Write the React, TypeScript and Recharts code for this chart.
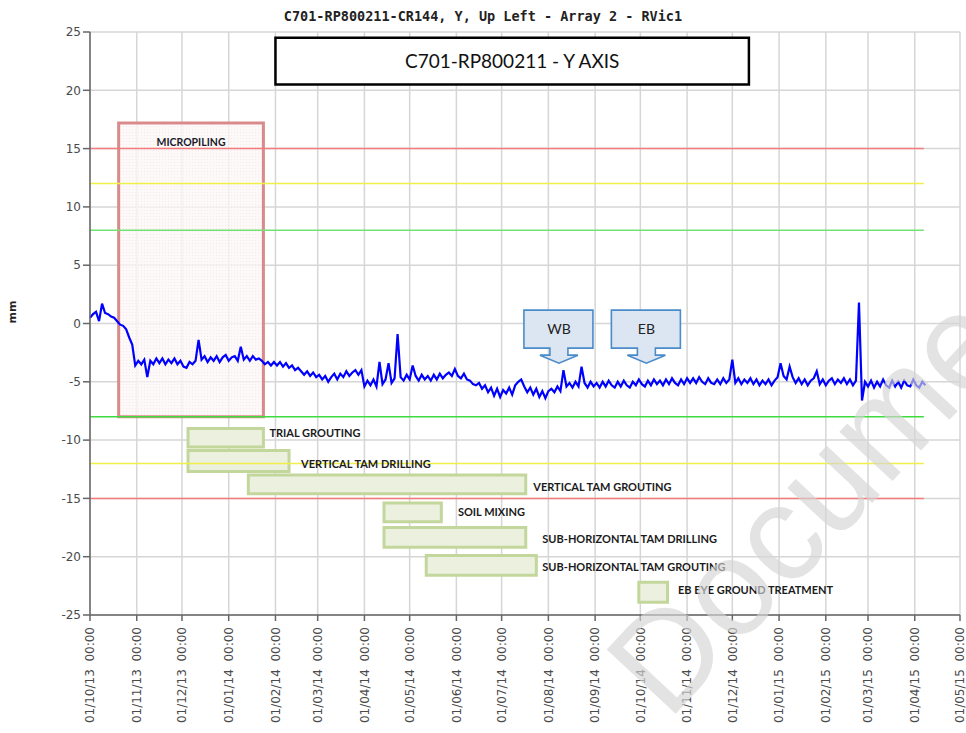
import React from 'react'
import { LineChart, Line, XAxis, YAxis, CartesianGrid, ReferenceLine, ReferenceArea, ReferenceDot } from 'recharts'

// readings every 2 days from 01/10/13 (mm)
const START = '01/10/13'
const SAMPLE_DAYS = 2
const readings = [
  0.5, 0.8, 1.0, 0.2, 1.7, 0.9, 0.8, 0.6, 0.5, 0.2,
  -0.1, -0.2, -0.5, -1.2, -1.8, -3.6, -3.2, -3.5, -3.1, -4.6,
  -3.2, -3.5, -3.0, -3.4, -3.0, -3.5, -3.1, -3.4, -3.0, -3.5,
  -3.2, -3.7, -3.8, -3.3, -3.5, -3.2, -1.4, -3.1, -2.8, -3.3,
  -2.9, -3.2, -2.8, -3.3, -2.9, -2.7, -3.2, -2.9, -2.8, -3.2,
  -2.0, -3.1, -2.8, -3.2, -2.8, -3.1, -3.0, -3.2, -3.5, -3.3,
  -3.6, -3.3, -3.6, -3.3, -3.7, -3.4, -3.8, -3.6, -4.0, -3.8,
  -4.1, -4.4, -4.1, -4.5, -4.2, -4.6, -4.4, -4.8, -4.5, -5.0,
  -4.6, -4.3, -4.8, -4.3, -4.6, -4.1, -4.5, -4.2, -4.0, -4.4,
  -4.0, -5.4, -4.9, -5.3, -4.8, -5.4, -3.3, -5.2, -4.8, -3.4,
  -5.1, -4.7, -0.9, -4.6, -4.9, -4.4, -4.8, -3.6, -4.5, -4.9,
  -4.4, -4.8, -4.5, -4.9, -4.4, -4.8, -4.3, -4.7, -4.4, -4.2,
  -4.5, -3.9, -4.5, -4.7, -4.3, -4.8, -4.9, -5.2, -5.3, -5.1,
  -5.6, -5.3, -5.9, -5.5, -6.2, -5.6, -6.3, -5.7, -6.0, -5.5,
  -6.1, -5.3, -5.0, -4.8, -5.4, -5.9, -5.5, -6.1, -5.6, -6.3,
  -5.8, -6.4, -5.8, -5.6, -5.9, -5.4, -5.8, -4.0, -5.4, -5.1,
  -5.5, -5.0, -5.4, -3.7, -5.1, -5.5, -5.0, -5.4, -5.1, -5.5,
  -5.0, -5.4, -4.9, -5.3, -5.5, -5.0, -5.4, -4.9, -5.3, -5.5,
  -5.0, -5.3, -4.8, -5.2, -5.4, -4.9, -5.3, -4.8, -5.2, -4.9,
  -5.3, -4.8, -5.2, -4.7, -5.1, -5.3, -4.8, -5.2, -4.7, -5.1,
  -4.7, -5.1, -4.6, -5.0, -5.2, -4.7, -5.1, -5.2, -4.8, -5.2,
  -4.7, -5.1, -4.8, -3.1, -5.1, -4.7, -5.2, -4.8, -5.1, -4.7,
  -5.2, -4.8, -5.3, -4.9, -5.2, -4.8, -5.3, -4.9, -4.6, -3.4,
  -4.5, -4.8, -3.7, -4.6, -5.1, -4.7, -5.2, -4.8, -5.3, -4.9,
  -4.7, -4.1, -5.2, -4.8, -5.3, -4.9, -4.7, -5.2, -4.8, -5.1,
  -4.7, -5.2, -4.8, -5.3, -4.9, 1.8, -6.6, -5.0, -5.4, -4.9,
  -5.5, -5.0, -5.4, -4.8, -5.3, -5.5, -4.9, -5.4, -5.0, -5.5,
  -4.9, -5.3, -5.4, -4.8, -5.3, -5.5, -5.0, -5.3,
]

const xTickLabels = [
  '01/10/13', '01/11/13', '01/12/13', '01/01/14', '01/02/14', '01/03/14', '01/04/14',
  '01/05/14', '01/06/14', '01/07/14', '01/08/14', '01/09/14', '01/10/14', '01/11/14',
  '01/12/14', '01/01/15', '01/02/15', '01/03/15', '01/04/15', '01/05/15',
]
const yTicks = [-25, -20, -15, -10, -5, 0, 5, 10, 15, 20, 25]

// alarm levels
const thresholdLevels = [15, 12, 8, -8, -12, -15]
const thresholdFrom = '01/10/13'
const thresholdTo = '07/04/15'

// works programme
const activityNames = [
  'TRIAL GROUTING', 'VERTICAL TAM DRILLING', 'VERTICAL TAM GROUTING', 'SOIL MIXING',
  'SUB-HORIZONTAL TAM DRILLING', 'SUB-HORIZONTAL TAM GROUTING', 'EB EYE GROUND TREATMENT',
]
const activityStart = ['05/12/13', '05/12/13', '14/01/14', '14/04/14', '14/04/14', '12/05/14', '30/09/14']
const activityEnd = ['24/01/14', '10/02/14', '17/07/14', '22/05/14', '17/07/14', '24/07/14', '19/10/14']
const activityTop = [-9.0, -10.9, -13.0, -15.4, -17.5, -19.9, -22.2]
const activityBottom = [-10.6, -12.7, -14.6, -17.0, -19.2, -21.6, -23.9]
const activityLabelAt = ['28/01/14', '18/02/14', '22/07/14', '02/06/14', '28/07/14', '28/07/14', '26/10/14']
const activityLabelY = [-9.4, -12.1, -14.0, -16.2, -18.5, -20.9, -22.9]

const micropiling = { name: 'MICROPILING', from: '20/10/13', to: '24/01/14', top: 17.2, bottom: -8.0, labelY: 15.5 }
const header = { text: 'C701-RP800211 - Y AXIS', from: '01/02/14', to: '12/12/14', top: 24.5, bottom: 20.5 }
const calloutNames = ['WB', 'EB']
const calloutAt = ['08/08/14', '05/10/14']
const calloutY = [-3.4, -3.4]

const TITLE = 'C701-RP800211-CR144, Y, Up Left - Array 2 - RVic1'

const DAY = 86400000
function toTime(s: string) {
  const [dd, mm, yy] = s.split('/').map(Number)
  return Date.UTC(2000 + yy, mm - 1, dd)
}

const startTime = toTime(START)
const series = readings.map((v, i) => ({ t: startTime + i * SAMPLE_DAYS * DAY, y: v }))
const xTicks = xTickLabels.map(toTime)

const THRESHOLD_COLORS: Record<string, string> = {
  '15': '#f47c7c', '12': '#f0f04a', '8': '#72e372', '-8': '#3fdc3f', '-12': '#f0f04a', '-15': '#f47c7c',
}
const LABEL_FONT = 'Lato, "Open Sans", sans-serif'
const AXIS_FONT = '"DejaVu Sans", Verdana, sans-serif'

function DateTick(props: any) {
  const { x, y, payload } = props
  const idx = xTicks.indexOf(payload.value)
  const label = idx >= 0 ? xTickLabels[idx] + '  00:00' : ''
  return (
    <g transform={`translate(${x},${y + 4})`}>
      <text
        x={0}
        y={0}
        dy="0.35em"
        transform="rotate(-90)"
        textAnchor="end"
        fill="#4a4a4a"
        fontSize={12}
        fontFamily={AXIS_FONT}
        style={{ whiteSpace: 'pre' }}
      >
        {label}
      </text>
    </g>
  )
}

function Callout(props: any, text: string) {
  const { cx, cy } = props
  const path = [
    `M${cx - 35},${cy - 53}`, `L${cx + 34},${cy - 53}`, `L${cx + 34},${cy - 15}`,
    `L${cx + 9},${cy - 15}`, `L${cx + 9},${cy - 8}`, `L${cx + 19},${cy - 8}`,
    `L${cx},${cy}`, `L${cx - 19},${cy - 8}`, `L${cx - 9},${cy - 8}`,
    `L${cx - 9},${cy - 15}`, `L${cx - 35},${cy - 15}`, 'Z',
  ].join(' ')
  return (
    <g>
      <path d={path} fill="#dce6f2" stroke="#4a8cc9" strokeWidth={1.6} />
      <text x={cx} y={cy - 34} dy="0.35em" textAnchor="middle" fontSize={14} fontFamily={LABEL_FONT} fill="#222">
        {text}
      </text>
    </g>
  )
}

export default function App() {
  return (
    <div style={{ position: 'absolute', left: 0, top: 0, width: 966, height: 733, background: '#fff' }}>
      <div
        style={{
          position: 'absolute', left: 0, top: 8, width: 966, textAlign: 'center',
          fontFamily: '"DejaVu Sans Mono", monospace', fontWeight: 'bold', fontSize: 13.5, color: '#222',
        }}
      >
        {TITLE}
      </div>
      <LineChart width={966} height={733} data={series} margin={{ top: 32, right: 6, bottom: 0, left: 0 }}>
        <defs>
          <pattern id="dots" width="3" height="3" patternUnits="userSpaceOnUse">
            <rect width="3" height="3" fill="#fdf7f7" />
            <rect width="1" height="1" fill="#f4e6e6" />
          </pattern>
        </defs>
        <CartesianGrid stroke="#d6d6d6" strokeWidth={1.5} />
        <XAxis
          dataKey="t"
          type="number"
          domain={[xTicks[0], xTicks[xTicks.length - 1]]}
          ticks={xTicks}
          interval={0}
          height={118}
          tick={<DateTick />}
          tickSize={6}
          axisLine={{ stroke: '#666', strokeWidth: 1.5 }}
          tickLine={{ stroke: '#666', strokeWidth: 1.5 }}
        />
        <YAxis
          type="number"
          domain={[-25, 25]}
          ticks={yTicks}
          interval={0}
          width={90}
          tickSize={7}
          tick={{ fill: '#4a4a4a', fontSize: 12, fontFamily: AXIS_FONT }}
          axisLine={{ stroke: '#666', strokeWidth: 1.5 }}
          tickLine={{ stroke: '#666', strokeWidth: 1.5 }}
          label={{ value: 'mm', angle: -90, position: 'insideLeft', offset: 12, fill: '#222', fontSize: 11, fontWeight: 'bold', fontFamily: AXIS_FONT }}
        />
        <ReferenceArea
          x1={toTime(micropiling.from)}
          x2={toTime(micropiling.to)}
          y1={micropiling.bottom}
          y2={micropiling.top}
          fill="url(#dots)"
          fillOpacity={0.8}
          stroke="#d98b8b"
          strokeWidth={3}
        />
        {thresholdLevels.map((lvl) => (
          <ReferenceLine
            key={lvl}
            segment={[{ x: toTime(thresholdFrom), y: lvl }, { x: toTime(thresholdTo), y: lvl }]}
            stroke={THRESHOLD_COLORS[String(lvl)]}
            strokeWidth={1.5}
          />
        ))}
        <Line type="linear" dataKey="y" stroke="#0000ff" strokeWidth={2.2} dot={false} isAnimationActive={false} />
        <ReferenceDot
          x={(toTime(micropiling.from) + toTime(micropiling.to)) / 2}
          y={micropiling.labelY}
          r={0}
          shape={(p: any) => (
            <text x={p.cx} y={p.cy} dy="0.35em" textAnchor="middle" fontSize={10.5} fontWeight="bold" fontFamily={LABEL_FONT} fill="#1b1b2a">
              {micropiling.name}
            </text>
          )}
        />
        {activityNames.map((name, i) => (
          <ReferenceArea
            key={name}
            x1={toTime(activityStart[i])}
            x2={toTime(activityEnd[i])}
            y1={activityBottom[i]}
            y2={activityTop[i]}
            fill="#ebf1de"
            fillOpacity={1}
            stroke="#c3d69b"
            strokeWidth={3}
          />
        ))}
        {activityNames.map((name, i) => (
          <ReferenceDot
            key={'l' + name}
            x={toTime(activityLabelAt[i])}
            y={activityLabelY[i]}
            r={0}
            shape={(p: any) => (
              <text x={p.cx} y={p.cy} dy="0.35em" textAnchor="start" fontSize={11} fontWeight="bold" fontFamily={LABEL_FONT} fill="#1b1b1b">
                {name}
              </text>
            )}
          />
        ))}
        {calloutNames.map((name, i) => (
          <ReferenceDot
            key={name}
            x={toTime(calloutAt[i])}
            y={calloutY[i]}
            r={0}
            shape={(p: any) => Callout(p, name)}
          />
        ))}
        <ReferenceArea
          x1={toTime(header.from)}
          x2={toTime(header.to)}
          y1={header.bottom}
          y2={header.top}
          fill="#fff"
          fillOpacity={1}
          stroke="#000"
          strokeWidth={2.5}
          label={(p: any) => {
            const vb = p.viewBox
            return (
              <text x={vb.x + vb.width / 2} y={vb.y + vb.height / 2} dy="0.35em" textAnchor="middle" fontSize={19} fontFamily={LABEL_FONT} fill="#111">
                {header.text}
              </text>
            )
          }}
        />
      </LineChart>
      <svg width={966} height={733} style={{ position: 'absolute', left: 0, top: 0, pointerEvents: 'none' }}>
        <text
          x={668}
          y={722}
          transform="rotate(-47 668 722)"
          fontSize={137}
          fontFamily='"Liberation Sans", Arial, sans-serif'
          fill="#d4d4d4"
          fillOpacity={0.65}
        >
          Document
        </text>
      </svg>
    </div>
  )
}
